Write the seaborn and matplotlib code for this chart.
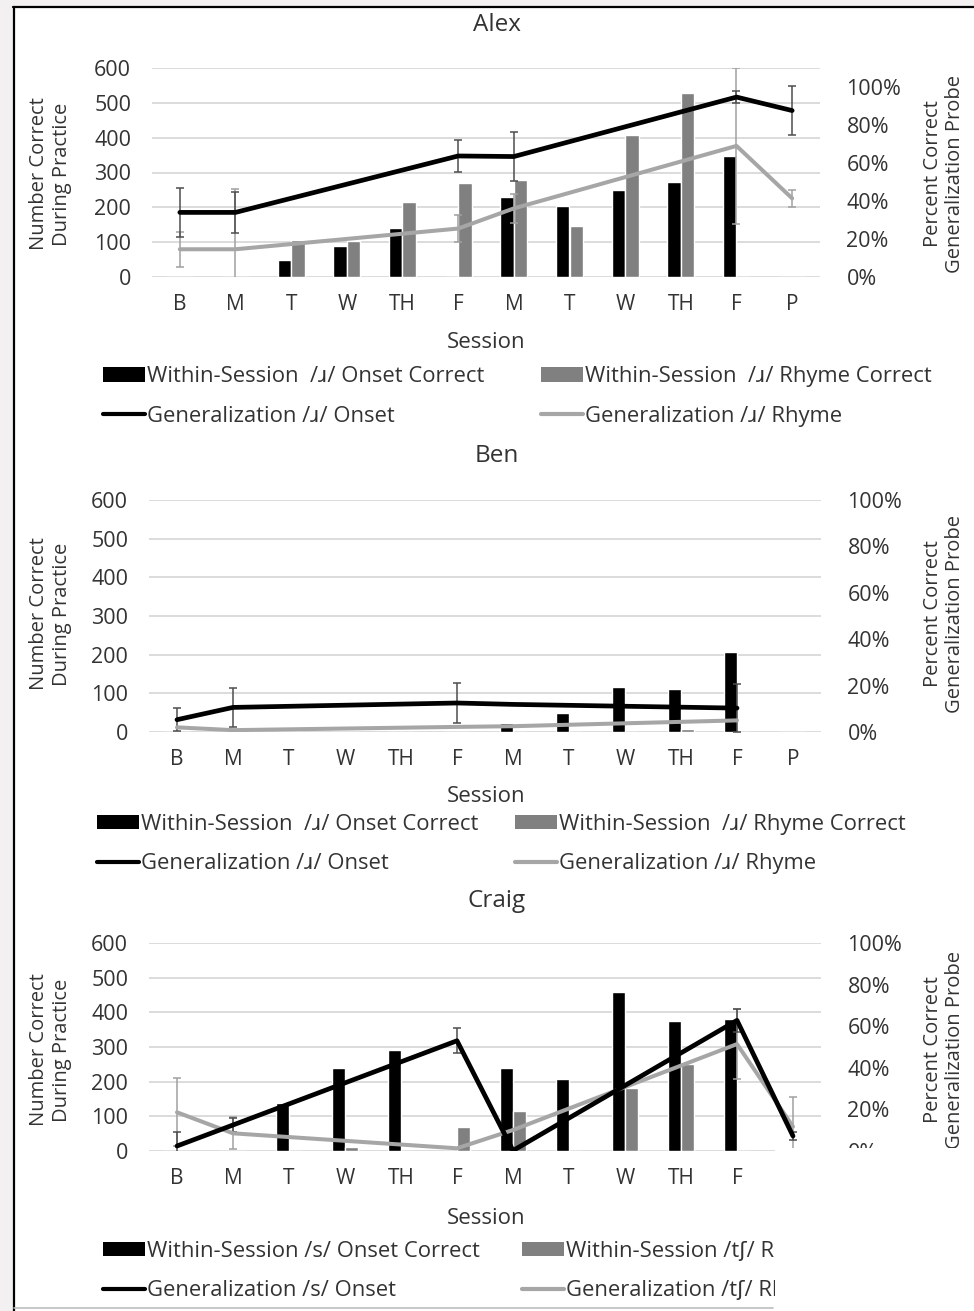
import numpy as np
import pandas as pd
import matplotlib
matplotlib.use('Agg')
import matplotlib.pyplot as plt
import seaborn as sns
from matplotlib.patches import Patch, Rectangle
from matplotlib.lines import Line2D
from matplotlib.ticker import FuncFormatter

nan = np.nan

sessions = ['B', 'M', 'T', 'W', 'TH', 'F', 'M', 'T', 'W', 'TH', 'F', 'P']

# Alex
alex_onset_bars = [0, 0, 48, 89, 141, 0, 230, 203, 251, 274, 346, 0]
alex_rhyme_bars = [0, 0, 106, 104, 216, 270, 278, 146, 408, 528, 0, 0]
alex_onset_pct = [34.0, 34.0, nan, nan, nan, 63.7, 63.4, nan, nan, nan, 94.7, 87.6]
alex_rhyme_pct = [14.6, 14.6, nan, nan, nan, 25.5, 36.1, nan, nan, nan, 69.0, 41.4]
alex_onset_err = [13.0, 11.0, nan, nan, nan, 8.6, 13.0, nan, nan, nan, 3.0, 12.8]
alex_rhyme_err = [9.2, 31.7, nan, nan, nan, 7.0, 7.5, nan, nan, nan, 41.0, 4.4]

# Ben
ben_onset_bars = [0, 0, 0, 0, 0, 0, 23, 49, 116, 112, 208, 0]
ben_rhyme_bars = [0, 0, 0, 0, 0, 0, 0, 0, 0, 9, 0, 0]
ben_onset_pct = [5.3, 10.6, nan, nan, nan, 12.5, 11.9, nan, nan, nan, 10.3, nan]
ben_rhyme_pct = [2.0, 0.8, nan, nan, nan, 2.2, 2.5, nan, nan, nan, 5.0, nan]
ben_onset_err = [5.0, 8.4, nan, nan, nan, 8.8, nan, nan, nan, nan, 10.4, nan]
ben_rhyme_err = [nan] * 12

# Craig
craig_onset_bars = [0, 0, 138, 239, 290, 0, 239, 207, 459, 376, 380, 0]
craig_rhyme_bars = [0, 0, 0, 12, 0, 68, 114, 0, 183, 250, 0, 0]
craig_onset_pct = [2.4, 12.5, nan, nan, nan, 53.0, 0.2, nan, nan, nan, 62.8, 7.2]
craig_rhyme_pct = [18.6, 8.5, nan, nan, nan, 1.3, 10.1, nan, nan, nan, 51.4, 11.7]
craig_onset_err = [6.6, 3.5, nan, nan, nan, 6.0, nan, nan, nan, nan, 5.5, 2.0]
craig_rhyme_err = [16.4, 7.7, nan, nan, nan, nan, nan, nan, nan, nan, 17.0, 14.4]

alex_labels = ['Within-Session  /ɹ/ Onset Correct', 'Generalization /ɹ/ Onset',
               'Within-Session  /ɹ/ Rhyme Correct', 'Generalization /ɹ/ Rhyme']
ben_labels = alex_labels
craig_labels = ['Within-Session /s/ Onset Correct', 'Generalization /s/ Onset',
                'Within-Session /tʃ/ Rhyme Correct', 'Generalization /tʃ/ Rhyme']

W, H = 974, 1311
TEXT = '#333333'
BLACK = '#000000'
GRAY_BAR = '#808080'
GRAY_LINE = '#a6a6a6'

sns.set_theme(style='white')
plt.rcParams['font.family'] = ['Open Sans', 'DejaVu Sans']
plt.rcParams['text.color'] = TEXT

fig = plt.figure(figsize=(W / 100, H / 100), dpi=100, facecolor='#f2f0f0')


def fx(px):
    return px / W


def fy(py):
    return 1 - py / H


# white page with black frame on left/top, gray line at bottom
fig.add_artist(Rectangle((fx(13), 0), 1, fy(7), transform=fig.transFigure,
                         facecolor='white', edgecolor='none', zorder=-5))
fig.add_artist(Line2D([fx(13.5), fx(13.5)], [0, fy(7)], transform=fig.transFigure,
                      color='black', lw=1.6, zorder=-4))
fig.add_artist(Line2D([fx(13), 1], [fy(7), fy(7)], transform=fig.transFigure,
                      color='black', lw=1.6, zorder=-4))
fig.add_artist(Line2D([fx(14), fx(773)], [fy(1308), fy(1308)], transform=fig.transFigure,
                      color='#bdbdbd', lw=1.2, zorder=-4))


def panel(rect, title, onset_bars, rhyme_bars, onset_pct, rhyme_pct, onset_err, rhyme_err,
          pct_max, labels, ypos):
    ax = fig.add_axes([fx(rect[0]), fy(rect[3]), fx(rect[2] - rect[0]), (rect[3] - rect[1]) / H])
    idx = list(range(len(sessions)))
    bars = pd.DataFrame({
        'idx': idx * 2,
        'count': list(onset_bars) + list(rhyme_bars),
        'series': ['onset'] * len(idx) + ['rhyme'] * len(idx),
    })
    sns.barplot(data=bars, x='idx', y='count', hue='series', order=idx,
                hue_order=['onset', 'rhyme'], palette=[BLACK, GRAY_BAR],
                width=0.48, saturation=1, errorbar=None, legend=False, ax=ax)
    ax.set_ylim(0, 600)
    ax.set_yticks(range(0, 601, 100))
    ax.set_xlim(-0.5, len(idx) - 0.5)
    ax.set_xticks(idx)
    ax.set_xticklabels(sessions)
    ax.set_xlabel('')
    ax.set_ylabel('')
    ax.yaxis.grid(True, color='#d9d9d9', lw=1.3)
    ax.set_axisbelow(True)
    for s in ax.spines.values():
        s.set_visible(False)
    ax.tick_params(axis='x', length=0, pad=12, labelsize=15, labelcolor=TEXT)
    ax.tick_params(axis='y', length=0, pad=15, labelsize=15.5, labelcolor=TEXT)

    ax2 = ax.twinx()
    for pct, err, col, ecol in [(rhyme_pct, rhyme_err, GRAY_LINE, '#a0a0a0'),
                                (onset_pct, onset_err, BLACK, '#4d4d4d')]:
        d = pd.DataFrame({'idx': idx, 'pct': pct, 'err': err})
        e = d.dropna(subset=['pct', 'err'])
        ax2.errorbar(e['idx'], e['pct'], yerr=e['err'], fmt='none', ecolor=ecol,
                     elinewidth=1.1, capsize=3.2, capthick=1.1, zorder=2)
    for pct, col, lw in [(rhyme_pct, GRAY_LINE, 2.9), (onset_pct, BLACK, 3.4)]:
        d = pd.DataFrame({'idx': idx, 'pct': pct}).dropna()
        sns.lineplot(data=d, x='idx', y='pct', color=col, lw=lw, ax=ax2,
                     solid_joinstyle='round', solid_capstyle='round', zorder=3)
    ax2.set_ylim(0, pct_max)
    ax2.set_yticks(range(0, 101, 20))
    ax2.yaxis.set_major_formatter(FuncFormatter(lambda v, p: f'{v:.0f}%'))
    ax2.set_xlim(-0.5, len(idx) - 0.5)
    ax2.set_xlabel('')
    ax2.set_ylabel('')
    ax2.grid(False)
    for s in ax2.spines.values():
        s.set_visible(False)
    ax2.tick_params(axis='y', length=0, pad=19, labelsize=15.5, labelcolor=TEXT)

    fig.text(fx(497), fy(ypos['title']), title, ha='center', va='center', fontsize=17.5)
    fig.text(fx(486), fy(ypos['session']), 'Session', ha='center', va='center', fontsize=16)
    fig.text(fx(51), fy(ypos['ylab']), 'Number Correct\nDuring Practice', rotation=90,
             ha='center', va='center', fontsize=14.5, linespacing=1.2)
    fig.text(fx(944), fy(ypos['ylab']), 'Percent Correct\nGeneralization Probe', rotation=90,
             ha='center', va='center', fontsize=14.5, linespacing=1.2)

    col1 = [Patch(facecolor=BLACK, edgecolor='none'),
            Line2D([], [], color=BLACK, lw=3)]
    col2 = [Patch(facecolor=GRAY_BAR, edgecolor='none'),
            Line2D([], [], color=GRAY_LINE, lw=3)]
    for handles, labs, x0 in [(col1, labels[:2], ypos['leg_x'][0]),
                              (col2, labels[2:], ypos['leg_x'][1])]:
        fig.legend(handles=handles, labels=labs, loc='center left',
                   bbox_to_anchor=(fx(x0), fy(ypos['leg_y'])), frameon=False,
                   borderpad=0, borderaxespad=0, handlelength=1.9, handleheight=0.65,
                   handletextpad=0.12, labelspacing=0.85, fontsize=15.8,
                   labelcolor=TEXT)
    return ax, ax2


panel((152, 68, 820, 277), 'Alex', alex_onset_bars, alex_rhyme_bars, alex_onset_pct,
      alex_rhyme_pct, alex_onset_err, alex_rhyme_err, 110, alex_labels,
      {'title': 25, 'session': 342, 'ylab': 174, 'leg_x': (103, 541), 'leg_y': 396.5})
panel((149, 500, 821, 732), 'Ben', ben_onset_bars, ben_rhyme_bars, ben_onset_pct,
      ben_rhyme_pct, ben_onset_err, ben_rhyme_err, 100, ben_labels,
      {'title': 456, 'session': 797, 'ylab': 614, 'leg_x': (97, 515), 'leg_y': 844})
panel((149, 943, 821, 1151), 'Craig', craig_onset_bars, craig_rhyme_bars, craig_onset_pct,
      craig_rhyme_pct, craig_onset_err, craig_rhyme_err, 100, craig_labels,
      {'title': 901, 'session': 1218, 'ylab': 1050, 'leg_x': (103, 522), 'leg_y': 1271})

# the source picture is cut off at the lower right of the Craig panel
fig.add_artist(Rectangle((fx(775), 0), 1, (H - 1148) / H,
                         transform=fig.transFigure, facecolor='white',
                         edgecolor='none', zorder=20))

fig.savefig('out.png', dpi=100, facecolor=fig.get_facecolor())
